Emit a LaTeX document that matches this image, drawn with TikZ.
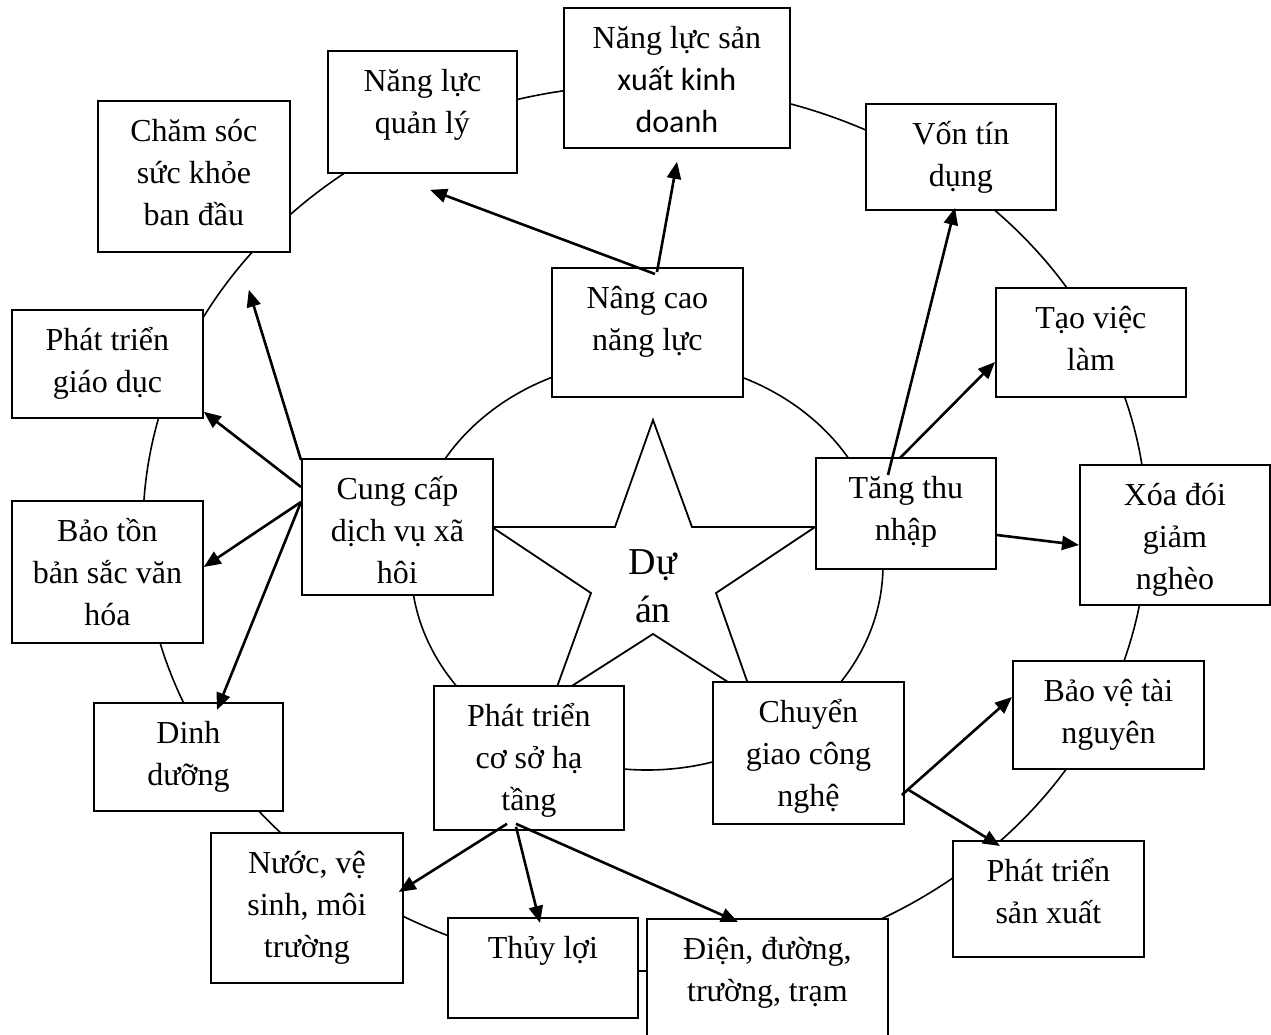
\documentclass[tikz,border=0pt]{standalone}
\usepackage{fontspec}
\setmainfont{Liberation Serif}
\newfontfamily\calibrifont{Carlito}
\usetikzlibrary{arrows.meta,calc}
% one drawing unit = 0.5pt
\newdimen\pxu \pxu=0.5pt
% \boxnode{name}{left}{top}{width}{height}{text}: framed box, text set from the top
\newcommand\boxnode[6]{%
  \node[textbox] (#1) at (#2,#3)
    {\parbox[b][#5\pxu][t]{#4\pxu}{\centering\rule{0pt}{20.5pt}#6}};}
\begin{document}
\begin{tikzpicture}[x=0.5pt,y=-0.5pt,
  textbox/.style={draw, line width=0.9pt, fill=white, inner sep=0pt,
    anchor=north west, font=\fontsize{16}{21}\selectfont},
  ring/.style={line width=0.8pt},
  link/.style={line width=1.3pt, -{Triangle[length=8.5pt,width=7pt]}}]
\useasboundingbox (0,0) rectangle (1271,1035);

% outer and inner rings
\draw[ring] (645,528) ellipse [x radius=251pt, y radius=221.5pt];
\draw[ring] (647,565) ellipse [x radius=118pt, y radius=102.5pt];

% central star
\draw[line width=0.9pt, fill=white]
  (653,420) -- (692,527) -- (815,527) -- (716,593) -- (753,698) --
  (653,634) -- (553,698) -- (591,593) -- (492,527) -- (615,527) -- cycle;
\node[align=center, inner sep=0pt, font=\fontsize{19}{24}\selectfont]
  (project) at (653,586) {Dự\\án};

% outer boxes
\boxnode{cs}{97}{100}{192}{151}{Chăm sóc\\sức khỏe\\ban đầu}
\boxnode{ql}{327}{50}{189}{122}{Năng lực\\quản lý}
\boxnode{sx}{563}{7}{226}{140}{Năng lực sản\\{\calibrifont xuất kinh}\\{\calibrifont doanh}}
\boxnode{vt}{865}{103}{190}{106}{Vốn tín\\dụng}
\boxnode{vl}{995}{287}{190}{109}{Tạo việc\\làm}
\boxnode{xd}{1079}{464}{190}{140}{Xóa đói\\giảm\\nghèo}
\boxnode{bv}{1012}{660}{191}{108}{Bảo vệ tài\\nguyên}
\boxnode{ps}{952}{840}{191}{116}{Phát triển\\sản xuất}
\boxnode{dd}{646}{918}{241}{130}{Điện, đường,\\trường, trạm}
\boxnode{tl}{447}{917}{190}{100}{Thủy lợi}
\boxnode{nv}{210}{832}{192}{150}{Nước, vệ\\sinh, môi\\trường}
\boxnode{di}{93}{702}{189}{108}{Dinh\\dưỡng}
\boxnode{bt}{11}{500}{191}{142}{Bảo tồn\\bản sắc văn\\hóa}
\boxnode{gd}{11}{309}{191}{108}{Phát triển\\giáo dục}

% inner boxes
\boxnode{cc}{301}{458}{191}{136}{Cung cấp\\dịch vụ xã\\hôi}
\boxnode{nc}{551}{267}{191}{129}{Nâng cao\\năng lực}
\boxnode{tt}{815}{457}{180}{111}{Tăng thu\\nhập}
\boxnode{hc}{433}{685}{190}{144}{Phát triển\\cơ sở hạ\\tầng}
\boxnode{cg}{712}{681}{191}{142}{Chuyển\\giao công\\nghệ}

% social services
\draw[link] ($(cc.north west)+(0,2)$)  -- ($(cs.south east)+(-42,37)$);
\draw[link] ($(cc.north west)+(0,29)$) -- ($(gd.south east)+(0,-7)$);
\draw[link] ($(cc.north west)+(0,44)$) -- ($(bt.north east)+(0,67)$);
\draw[link] ($(cc.north west)+(0,44)$) -- ($(di.north west)+(124,8)$);

% capacity building
\draw[link] ($(nc.north west)+(104,7)$) -- ($(ql.south west)+(103,16)$);
\draw[link] ($(nc.north west)+(106,5)$) -- ($(sx.south west)+(114,13)$);

% income
\draw[link] ($(tt.north west)+(73,18)$) -- ($(vt.south west)+(90,-3)$);
\draw[link] ($(tt.north west)+(85,1)$)  -- ($(vl.north west)+(0,75)$);
\draw[link] ($(tt.north east)+(0,78)$)  -- ($(xd.north west)+(0,81)$);

% technology transfer
\draw[link] ($(cg.north east)+(-3,114)$) -- ($(bv.north west)+(0,37)$);
\draw[link] ($(cg.north east)+(4,109)$)  -- ($(ps.north west)+(48,6)$);

% infrastructure
\draw[link] ($(hc.south west)+(74,-7)$) -- ($(nv.north east)+(-5,60)$);
\draw[link] ($(hc.south west)+(83,-4)$) -- ($(tl.north west)+(93,6)$);
\draw[link] ($(hc.south west)+(83,-7)$) -- ($(dd.north west)+(92,4)$);
\end{tikzpicture}
\end{document}
